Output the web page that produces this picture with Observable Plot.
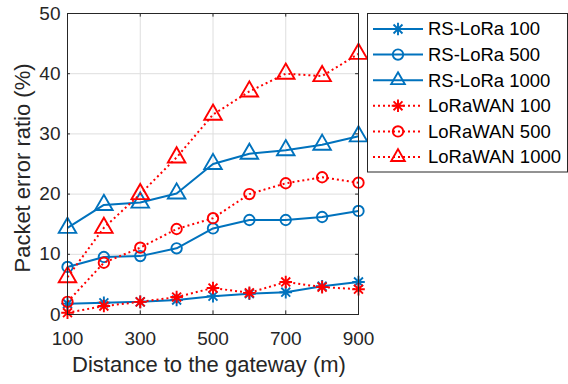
<!DOCTYPE html>
<html><head><meta charset="utf-8">
<script src="https://cdn.jsdelivr.net/npm/d3@7"></script>
<script src="https://cdn.jsdelivr.net/npm/@observablehq/plot@0.6"></script>
<style>
body{margin:0;background:#fff;}
#wrap{position:relative;width:568px;height:384px;overflow:hidden;}
#legend{position:absolute;left:0;top:0;}
</style>
</head><body><div id="wrap"></div>
<script>
// ---- data ----
const distances = [100, 200, 300, 400, 500, 600, 700, 800, 900];
const rsLoRa100   = [1.8, 1.95, 2.1, 2.4, 3.05, 3.45, 3.7, 4.7, 5.4];
const rsLoRa500   = [7.9, 9.55, 9.7, 11.0, 14.3, 15.7, 15.7, 16.2, 17.2];
const rsLoRa1000  = [14.4, 18.2, 18.6, 20.1, 25.0, 26.7, 27.3, 28.2, 29.6];
const loRaWAN100  = [0.3, 1.4, 2.1, 2.9, 4.4, 3.6, 5.4, 4.55, 4.2];
const loRaWAN500  = [2.1, 8.6, 11.1, 14.2, 16.0, 20.0, 21.8, 22.8, 21.9];
const loRaWAN1000 = [6.2, 14.4, 20.0, 26.1, 33.2, 37.05, 40.0, 39.6, 43.3];
const seriesNames = ["RS-LoRa 100", "RS-LoRa 500", "RS-LoRa 1000", "LoRaWAN 100", "LoRaWAN 500", "LoRaWAN 1000"];
const xTicks = [100, 300, 500, 700, 900];
const yTicks = [0, 10, 20, 30, 40, 50];
const xLabel = "Distance to the gateway (m)";
const yLabel = "Packet error ratio (%)";

// ---- styles ----
const BLUE = "#0072BD", RED = "#FF0000";
const FONT = "'Liberation Sans', Arial, Helvetica, sans-serif";
const asterisk = {
  draw(ctx, size) {
    const r = Math.sqrt(size / Math.PI);
    for (let k = 0; k < 4; k++) {
      const a = k * Math.PI / 4;
      const c = Math.cos(a) * r, s = Math.sin(a) * r;
      ctx.moveTo(-c, -s); ctx.lineTo(c, s);
    }
  }
};
const styles = [
  {color: BLUE, dash: null, symbol: asterisk, r: 6.3},
  {color: BLUE, dash: null, symbol: "circle", r: 5.2},
  {color: BLUE, dash: null, symbol: "triangle", r: 6.5},
  {color: RED, dash: "2,3", symbol: asterisk, r: 6.3},
  {color: RED, dash: "2,3", symbol: "circle", r: 5.2},
  {color: RED, dash: "2,3", symbol: "triangle", r: 6.5}
];
const allSeries = [rsLoRa100, rsLoRa500, rsLoRa1000, loRaWAN100, loRaWAN500, loRaWAN1000];
const rows = allSeries.flatMap((vals, i) => vals.map((v, j) => ({series: seriesNames[i], x: distances[j], y: v, i})));

const marks = [
  Plot.gridX(xTicks, {stroke: "#dedede", strokeOpacity: 1}),
  Plot.gridY(yTicks, {stroke: "#dedede", strokeOpacity: 1}),
];
seriesNames.forEach((name, i) => {
  const st = styles[i];
  const data = rows.filter(d => d.i === i);
  marks.push(Plot.line(data, {x: "x", y: "y", stroke: st.color, strokeWidth: 2, strokeDasharray: st.dash, strokeLinecap: "butt"}));
  marks.push(Plot.dot(data, {x: "x", y: "y", stroke: st.color, fill: "none", strokeWidth: 1.9, symbol: st.symbol, r: st.r}));
});
marks.push(
  Plot.ruleX(xTicks, {x: d => d, y1: 0, y2: 0.6, stroke: "#262626"}),
  Plot.ruleX(xTicks, {x: d => d, y1: 50, y2: 49.4, stroke: "#262626"}),
  Plot.ruleY(yTicks, {y: d => d, x1: 100, x2: 108, stroke: "#262626"}),
  Plot.ruleY(yTicks, {y: d => d, x1: 900, x2: 892, stroke: "#262626"}),
  Plot.frame({stroke: "#262626", strokeWidth: 1}),
  Plot.axisX(xTicks, {tickSize: 0, tickPadding: 17, label: null, fontSize: 19, color: "#262626"}),
  Plot.axisY(yTicks, {tickSize: 0, tickPadding: 7, label: null, fontSize: 19, color: "#262626"}),
  Plot.text([xLabel], {text: d => d, frameAnchor: "bottom", textAnchor: "middle", lineAnchor: "middle", dy: 50, dx: -4, fontSize: 22, fill: "#262626"}),
  Plot.text([yLabel], {text: d => d, frameAnchor: "left", textAnchor: "middle", lineAnchor: "middle", rotate: -90, dx: -45, dy: 4, fontSize: 22, fill: "#262626"})
);

const chart = Plot.plot({
  width: 568, height: 384,
  marginLeft: 67, marginRight: 210, marginTop: 13, marginBottom: 70,
  x: {domain: [100, 900]},
  y: {domain: [0, 50]},
  style: {fontFamily: FONT, background: "#fff", overflow: "visible"},
  marks
});
document.getElementById("wrap").appendChild(chart);

// ---- legend ----
const lg = d3.select("#wrap").append("svg").attr("id", "legend")
  .attr("width", 568).attr("height", 384).style("pointer-events", "none");
lg.append("rect").attr("x", 367.5).attr("y", 13.5).attr("width", 200).attr("height", 158.5)
  .attr("fill", "#fff").attr("stroke", "#262626").attr("stroke-width", 1);
const rowY0 = 29, rowStep = 25.6;
seriesNames.forEach((name, i) => {
  const st = styles[i];
  const y = rowY0 + i * rowStep;
  const g = lg.append("g");
  g.append("line").attr("x1", 373).attr("x2", 423).attr("y1", y).attr("y2", y)
    .attr("stroke", st.color).attr("stroke-width", 2).attr("stroke-dasharray", st.dash);
  let sym;
  if (st.symbol === "circle") sym = d3.symbol(d3.symbolCircle, st.r * st.r * Math.PI);
  else if (st.symbol === "triangle") sym = d3.symbol(d3.symbolTriangle2, st.r * st.r * Math.PI);
  else sym = d3.symbol(asterisk, st.r * st.r * Math.PI);
  g.append("path").attr("d", sym()).attr("transform", `translate(398,${y})`)
    .attr("fill", "none").attr("stroke", st.color).attr("stroke-width", 1.9);
  g.append("text").attr("x", 428).attr("y", y).attr("dy", "0.35em")
    .attr("font-family", FONT).attr("font-size", 18.5).attr("fill", "#000").text(name);
});
</script>
</body></html>
